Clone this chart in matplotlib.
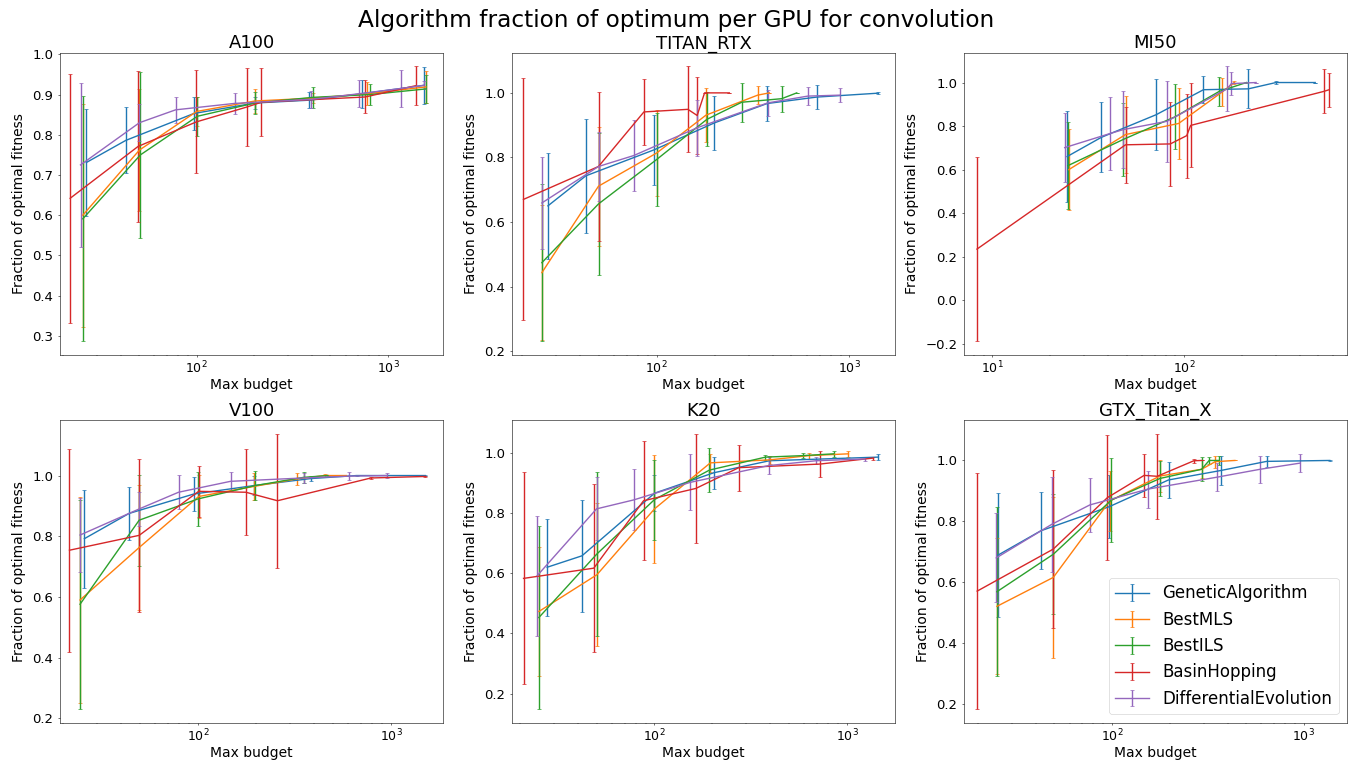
import matplotlib

matplotlib.use("Agg")
import matplotlib.pyplot as plt

ALGOS = ["GeneticAlgorithm", "BestMLS", "BestILS", "BasinHopping", "DifferentialEvolution"]
COLORS = ["tab:blue", "tab:orange", "tab:green", "tab:red", "tab:purple"]
GPUS = ["A100", "TITAN_RTX", "MI50", "V100", "K20", "GTX_Titan_X"]
# x range of each panel as shown in the reference
XLIMS = [(19.3, 1941), (17.7, 1726), (7.1, 706), (19.3, 1858), (18.2, 1774), (16.9, 1679)]

# per GPU: one list per algorithm (order of ALGOS)
A100_X = [[26.5, 42.6, 96.8, 202, 388, 731, 1545],
          [25.4, 50.2, 100, 202, 404, 780, 1578],
          [25.4, 50.8, 100.8, 202, 404, 807, 1578],
          [21.8, 49.4, 99.6, 183, 218, 761, 1396],
          [24.7, 50.2, 77.6, 158, 396, 705, 1165, 1545]]
A100_Y = [[0.731, 0.786, 0.853, 0.879, 0.886, 0.902, 0.923],
          [0.600, 0.762, 0.858, 0.884, 0.891, 0.902, 0.919],
          [0.591, 0.750, 0.846, 0.879, 0.893, 0.900, 0.914],
          [0.642, 0.771, 0.832, 0.869, 0.881, 0.894, 0.922],
          [0.725, 0.830, 0.862, 0.878, 0.888, 0.902, 0.915, 0.923]]
A100_ERR = [[0.133, 0.082, 0.042, 0.015, 0.020, 0.035, 0.046],
            [0.277, 0.152, 0.035, 0.031, 0.012, 0.029, 0.039],
            [0.305, 0.206, 0.048, 0.027, 0.027, 0.026, 0.035],
            [0.309, 0.188, 0.128, 0.097, 0.084, 0.041, 0.048],
            [0.203, 0.046, 0.033, 0.026, 0.022, 0.033, 0.046, 0.010]]

TITAN_X = [[27.2, 42.8, 97.2, 199, 374, 677, 1403],
           [25.3, 49.8, 100, 180, 334, 384],
           [25.3, 49.8, 100, 182, 276, 445, 533],
           [20.3, 49.8, 85.7, 145, 162, 177, 238],
           [25.3, 49.8, 76, 162, 377, 608, 895]]
TITAN_Y = [[0.650, 0.743, 0.824, 0.907, 0.967, 0.987, 0.999],
           [0.443, 0.711, 0.814, 0.931, 0.993, 1.000],
           [0.474, 0.656, 0.794, 0.918, 0.971, 0.982, 1.000],
           [0.670, 0.772, 0.941, 0.949, 0.930, 1.000, 1.000],
           [0.659, 0.772, 0.806, 0.892, 0.969, 0.990, 0.993]]
TITAN_ERR = [[0.165, 0.177, 0.109, 0.083, 0.055, 0.036, 0.003],
             [0.209, 0.184, 0.133, 0.083, 0.029, 0.0],
             [0.244, 0.220, 0.145, 0.084, 0.061, 0.040, 0.0],
             [0.375, 0.231, 0.102, 0.133, 0.119, 0.0, 0.0],
             [0.142, 0.106, 0.111, 0.087, 0.041, 0.027, 0.022]]

MI50_X = [[24.5, 36.9, 71.3, 126, 216, 301, 482],
          [25, 49.4, 93.5, 158, 182],
          [24.7, 48.2, 89.8, 152, 211],
          [8.3, 49.4, 84.6, 103, 108, 533, 570],
          [23.8, 41.1, 48.2, 81.3, 168, 176, 237]]
MI50_Y = [[0.660, 0.748, 0.852, 0.967, 0.971, 1.000, 1.000],
          [0.600, 0.761, 0.812, 0.957, 1.000],
          [0.618, 0.739, 0.843, 0.959, 1.000],
          [0.235, 0.714, 0.718, 0.756, 0.803, 0.959, 0.967],
          [0.701, 0.766, 0.784, 0.822, 0.972, 0.995, 1.000]]
MI50_ERR = [[0.210, 0.161, 0.163, 0.063, 0.090, 0.008, 0.0],
            [0.185, 0.178, 0.165, 0.066, 0.005],
            [0.201, 0.169, 0.150, 0.067, 0.004],
            [0.424, 0.174, 0.193, 0.193, 0.193, 0.101, 0.079],
            [0.160, 0.168, 0.178, 0.186, 0.102, 0.054, 0.0]]

V100_X = [[25.8, 43.9, 94.9, 195, 383, 662, 1503],
          [24.5, 49.6, 100.8, 194, 326, 453, 587],
          [24.5, 49.6, 100, 198, 352, 471],
          [21.6, 49.6, 100.8, 177, 258, 787, 1503],
          [24.5, 49.6, 79.3, 147.5, 352, 604, 957]]
V100_Y = [[0.792, 0.875, 0.939, 0.967, 0.990, 1.000, 1.000],
          [0.590, 0.763, 0.931, 0.964, 0.989, 1.000, 1.000],
          [0.576, 0.853, 0.923, 0.967, 0.994, 1.000],
          [0.754, 0.803, 0.948, 0.945, 0.917, 0.992, 0.997],
          [0.804, 0.890, 0.945, 0.981, 0.992, 0.998, 1.000]]
V100_ERR = [[0.161, 0.087, 0.057, 0.030, 0.008, 0.003, 0.003],
            [0.338, 0.207, 0.070, 0.044, 0.021, 0.005, 0.0],
            [0.345, 0.150, 0.090, 0.047, 0.018, 0.003],
            [0.335, 0.252, 0.085, 0.141, 0.220, 0.004, 0.003],
            [0.122, 0.057, 0.056, 0.031, 0.018, 0.013, 0.007]]

K20_X = [[27.7, 42, 100, 203, 395, 1442],
         [25.1, 50.2, 100, 195, 398, 632, 1016],
         [25.1, 50.2, 100, 193, 377, 589, 853],
         [20.9, 48.4, 87.7, 164, 274, 724, 1371],
         [24.6, 50, 78.2, 153, 392, 690, 1240]]
K20_Y = [[0.620, 0.658, 0.866, 0.934, 0.974, 0.986],
         [0.473, 0.595, 0.814, 0.967, 0.977, 0.991, 0.997],
         [0.453, 0.664, 0.845, 0.943, 0.986, 0.991, 0.997],
         [0.583, 0.617, 0.841, 0.882, 0.951, 0.963, 0.983],
         [0.592, 0.814, 0.844, 0.902, 0.958, 0.974, 0.980]]
K20_ERR = [[0.162, 0.186, 0.060, 0.054, 0.016, 0.010],
           [0.213, 0.238, 0.180, 0.030, 0.014, 0.010, 0.010],
           [0.304, 0.272, 0.133, 0.073, 0.008, 0.008, 0.009],
           [0.352, 0.280, 0.197, 0.181, 0.076, 0.042, 0.005],
           [0.199, 0.105, 0.101, 0.093, 0.027, 0.012, 0.006]]

GTX_X = [[25.4, 42.5, 96.5, 197, 369, 640, 1365],
         [25.1, 49.4, 97.3, 178, 293, 345, 437],
         [25.1, 49.4, 99.2, 178, 293, 321, 362],
         [19.8, 49.4, 94.6, 147, 172, 267, 293],
         [24.9, 48.4, 76.6, 154, 352, 591, 950]]
GTX_Y = [[0.689, 0.769, 0.848, 0.936, 0.967, 0.997, 1.000],
         [0.521, 0.616, 0.867, 0.949, 0.971, 0.996, 1.000],
         [0.569, 0.692, 0.870, 0.941, 0.971, 1.000, 1.000],
         [0.571, 0.709, 0.878, 0.951, 0.948, 0.999, 1.000],
         [0.680, 0.790, 0.854, 0.906, 0.945, 0.971, 0.991]]
GTX_ERR = [[0.203, 0.127, 0.104, 0.058, 0.049, 0.019, 0.003],
           [0.223, 0.263, 0.100, 0.053, 0.030, 0.020, 0.0],
           [0.277, 0.197, 0.138, 0.058, 0.040, 0.010, 0.016],
           [0.387, 0.260, 0.204, 0.070, 0.139, 0.007, 0.0],
           [0.146, 0.157, 0.089, 0.061, 0.046, 0.044, 0.030]]

PANELS = [(A100_X, A100_Y, A100_ERR), (TITAN_X, TITAN_Y, TITAN_ERR),
          (MI50_X, MI50_Y, MI50_ERR), (V100_X, V100_Y, V100_ERR),
          (K20_X, K20_Y, K20_ERR), (GTX_X, GTX_Y, GTX_ERR)]


def main():
    # low dpi, large point sizes: gives the short ticks and thin lines of the original
    dpi = 50
    fig, axes = plt.subplots(2, 3, figsize=(1352 / dpi, 761 / dpi), dpi=dpi)
    fig.subplots_adjust(left=0.0444, right=0.9963, top=0.9308, bottom=0.0503,
                        wspace=0.18, hspace=0.215)
    fig.suptitle("Algorithm fraction of optimum per GPU for convolution",
                 fontsize=33.5, y=0.988)

    for ax, gpu, xlim, (xs, ys, errs) in zip(axes.flat, GPUS, XLIMS, PANELS):
        for name, color, x, y, e in zip(ALGOS, COLORS, xs, ys, errs):
            ax.errorbar(x, y, yerr=e, label=name, color=color,
                        capsize=2.5, linewidth=2, elinewidth=2)
        ax.set_xscale("log")
        ax.set_xlim(*xlim)
        ax.set_title(gpu, fontsize=26)
        ax.set_xlabel("Max budget", fontsize=20, labelpad=2)
        ax.set_ylabel("Fraction of optimal fitness", fontsize=20, labelpad=9)
        ax.tick_params(axis="x", labelsize=18)
        ax.tick_params(axis="y", labelsize=19, pad=6)

    axes[1, 2].legend(loc="lower right", fontsize=24)
    fig.savefig("out.png", dpi=dpi)


if __name__ == "__main__":
    main()
